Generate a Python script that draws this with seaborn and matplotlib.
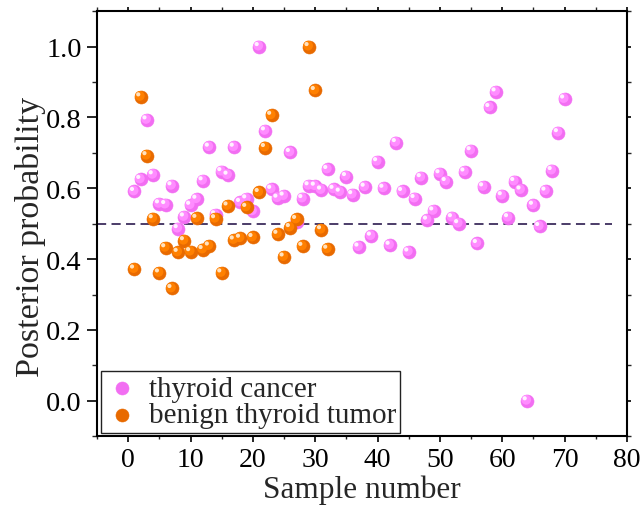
import numpy as np
import pandas as pd
import matplotlib
matplotlib.use("Agg")
import matplotlib.pyplot as plt
from matplotlib.transforms import offset_copy
from matplotlib.ticker import MultipleLocator, FormatStrFormatter
import seaborn as sns

# ---- data ----
cancer_label = "thyroid cancer"
benign_label = "benign thyroid tumor"
cancer_prob = [0.591, 0.625, 0.793, 0.638, 0.556, 0.554, 0.607, 0.486, 0.519, 0.552,
               0.569, 0.621, 0.716, 0.525, 0.647, 0.637, 0.716, 0.560, 0.570, 0.535,
               1.000, 0.762, 0.597, 0.572, 0.578, 0.701, 0.505, 0.571, 0.607, 0.606,
               0.595, 0.653, 0.597, 0.589, 0.633, 0.582, 0.434, 0.603, 0.465, 0.675,
               0.600, 0.439, 0.729, 0.591, 0.420, 0.571, 0.630, 0.510, 0.536, 0.641,
               0.619, 0.517, 0.500, 0.646, 0.706, 0.444, 0.604, 0.828, 0.872, 0.579,
               0.517, 0.619, 0.595, 0.000, 0.552, 0.492, 0.592, 0.650, 0.757, 0.852]
benign_prob = [0.372, 0.858, 0.692, 0.514, 0.361, 0.432, 0.317, 0.419, 0.452, 0.421,
               0.515, 0.427, 0.437, 0.514, 0.361, 0.550, 0.454, 0.459, 0.546, 0.461,
               0.588, 0.715, 0.806, 0.470, 0.406, 0.489, 0.512, 0.436, 1.000, 0.876,
               0.483, 0.428]
threshold = 0.5
x_ticks = [0, 10, 20, 30, 40, 50, 60, 70, 80]
y_ticks = [0.0, 0.2, 0.4, 0.6, 0.8, 1.0]

cancer_df = pd.DataFrame({"Sample number": np.arange(1, len(cancer_prob) + 1),
                          "Posterior probability": cancer_prob})
benign_df = pd.DataFrame({"Sample number": np.arange(1, len(benign_prob) + 1),
                          "Posterior probability": benign_prob})

# ---- style ----
sns.set_style("ticks")
plt.rcParams["font.family"] = ["Liberation Serif", "DejaVu Serif"]

fig = plt.figure(figsize=(6.43, 5.06), dpi=100)
ax = fig.add_axes([0.151, 0.136, 0.824, 0.840])

def sphere(df, base, mid, hl, label):
    sns.scatterplot(data=df, x="Sample number", y="Posterior probability", ax=ax,
                    color=base, s=88, edgecolor=base, linewidth=0.4, label=label, zorder=3)
    sns.scatterplot(data=df, x="Sample number", y="Posterior probability", ax=ax,
                    color=mid, s=50, edgecolor="none", legend=False, zorder=3,
                    transform=offset_copy(ax.transData, fig=fig, x=-0.7, y=0.7, units="points"))
    sns.scatterplot(data=df, x="Sample number", y="Posterior probability", ax=ax,
                    color=hl, s=9, edgecolor="none", legend=False, zorder=3,
                    transform=offset_copy(ax.transData, fig=fig, x=-1.8, y=1.8, units="points"))

sphere(cancer_df, "#F26EF2", "#FF8CFF", "#FFF2FF", cancer_label)
sphere(benign_df, "#E86A00", "#FF8000", "#FFE2C0", benign_label)

ax.axhline(threshold, xmin=0, xmax=0.972, color="#1A0840", lw=1.1,
           dashes=(6, 3.5), zorder=2)

ax.set_xlim(-5, 80)
ax.set_ylim(-0.1, 1.1)
ax.set_xticks(x_ticks)
ax.set_yticks(y_ticks)
ax.xaxis.set_minor_locator(MultipleLocator(5))
ax.yaxis.set_minor_locator(MultipleLocator(0.1))
ax.yaxis.set_major_formatter(FormatStrFormatter("%.1f"))

for sp in ax.spines.values():
    sp.set_visible(True)
    sp.set_linewidth(1.5)
    sp.set_color("black")

ax.tick_params(axis="y", which="major", labelsize=20.5, length=7, width=1.2,
               direction="out", colors="black", pad=4)
ax.tick_params(axis="y", which="minor", length=3.5, width=1.0, direction="out")
ax.tick_params(axis="x", which="major", labelsize=20, length=4, width=1.2,
               direction="out", colors="black", pad=3.5)
ax.tick_params(axis="x", which="minor", length=2.5, width=1.0, direction="out")
ax.tick_params(top=True, right=True, which="both")
ax.tick_params(axis="x", which="major", labeltop=False)
for t in ax.xaxis.get_major_ticks() + ax.xaxis.get_minor_ticks():
    t.tick2line.set_markersize(3)
for t in ax.yaxis.get_major_ticks() + ax.yaxis.get_minor_ticks():
    t.tick2line.set_markersize(3)

ax.set_xlabel("Sample number", fontsize=22.5)
ax.xaxis.set_label_coords(0.5, -0.091)
ax.set_ylabel("Posterior probability", fontsize=24.5)
ax.yaxis.set_label_coords(-0.097, 0.47)

leg = ax.legend(loc="lower left", fontsize=21, frameon=True, fancybox=False,
                borderaxespad=0.12, handletextpad=0.3, labelspacing=0.0,
                borderpad=0.15, handlelength=1.2, markerscale=1.0)
leg.get_frame().set_edgecolor("#222222")
leg.get_frame().set_linewidth(1.0)
leg.get_frame().set_alpha(1)

fig.savefig("out.png", dpi=100)
